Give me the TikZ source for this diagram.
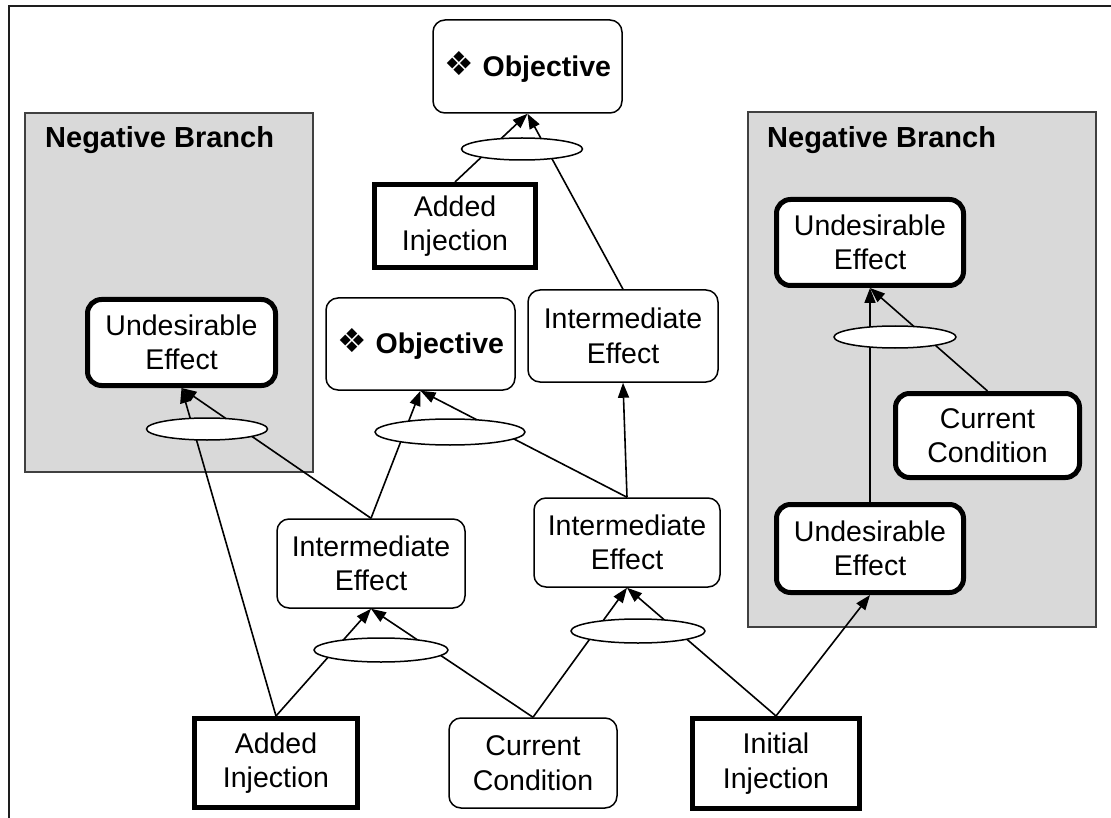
\documentclass[tikz,border=0pt]{standalone}
\usepackage{fontspec}
\setmainfont{Liberation Sans}
\newfontfamily\symfont{DejaVu Sans}
\usetikzlibrary{arrows.meta,shapes.geometric}
\definecolor{panelgray}{RGB}{217,217,217}
\definecolor{panelline}{RGB}{64,64,64}
\definecolor{framecol}{RGB}{30,30,30}
\newcommand{\objlabel}{\raisebox{1pt}{\symfont\fontsize{33}{33}\selectfont ❖}\hspace{9pt}\textbf{Objective}}
\begin{document}
\begin{tikzpicture}[x=1pt,y=-1pt,
  every node/.style={font=\fontsize{28.5}{34.5}\selectfont, align=center, inner sep=0pt},
  thinbox/.style={draw=black, line width=1.5pt, rounded corners=12pt, fill=white},
  thickbox/.style={draw=black, line width=5pt, rounded corners=14pt, fill=white},
  squarebox/.style={draw=black, line width=5pt, fill=white},
  panel/.style={draw=panelline, line width=1.5pt, fill=panelgray},
  paneltitle/.style={font=\fontsize{29}{34}\selectfont\bfseries, anchor=base west},
  andell/.style={ellipse, draw=black, line width=1.5pt, fill=white},
  conn/.style={draw=black, line width=1.6pt, -{Triangle[length=15pt,width=11pt]}},
  link/.style={draw=black, line width=1.5pt}]
\useasboundingbox (0,0) rectangle (1111,818);
\fill[white] (0,0) rectangle (1111,818);
% outer frame
\draw[framecol, line width=2.5pt] (9,818) -- (9,6) -- (1111,6);

% shaded negative-branch panels
\node[panel, minimum width=288pt, minimum height=359pt] (nbL) at (169,292.5) {};
\node[panel, minimum width=348pt, minimum height=515pt] (nbR) at (922,369.5) {};
\node[paneltitle] (nbLt) at (45,148) {Negative Branch};
\node[paneltitle] (nbRt) at (767,148) {Negative Branch};

% entities
\node[thinbox, minimum width=189pt, minimum height=93pt] (objTop) at (527.5,66.5) {\objlabel};
\node[squarebox, minimum width=161pt, minimum height=83pt] (aiTop) at (455,226) {Added\\Injection};
\node[thinbox, minimum width=189pt, minimum height=92pt] (objMid) at (420.5,344) {\objlabel};
\node[thinbox, minimum width=190pt, minimum height=92pt] (ieUp) at (623,336) {Intermediate\\Effect};
\node[thickbox, minimum width=188pt, minimum height=86pt] (ueL) at (181.5,342.5) {Undesirable\\Effect};
\node[thinbox, minimum width=188pt, minimum height=89pt] (ieL) at (371,563.5) {Intermediate\\Effect};
\node[thinbox, minimum width=186pt, minimum height=89pt] (ieR) at (627,542.5) {Intermediate\\Effect};
\node[squarebox, minimum width=163pt, minimum height=89pt] (aiBot) at (276,763) {Added\\Injection};
\node[thinbox, minimum width=168pt, minimum height=90pt] (ccBot) at (533,763) {Current\\Condition};
\node[squarebox, minimum width=167pt, minimum height=90pt] (iiBot) at (776,763.5) {Initial\\Injection};
\node[thickbox, minimum width=187pt, minimum height=86pt] (ueRT) at (870,242.5) {Undesirable\\Effect};
\node[thickbox, minimum width=184pt, minimum height=84pt] (ccR) at (987.5,435.5) {Current\\Condition};
\node[thickbox, minimum width=187pt, minimum height=88pt] (ueRB) at (870,548.5) {Undesirable\\Effect};

% cause-effect connectors
\draw[conn] (aiTop.north) -- (objTop.south);
\draw[conn] (ieUp.north) -- (objTop.south);
\draw[conn] (aiBot.north) -- (ueL.south);
\draw[conn] (ieL.north) -- (ueL.south);
\draw[conn] (ieL.north) -- (objMid.south);
\draw[conn] (ieR.north) -- (objMid.south);
\draw[conn] (ieR.north) -- (ieUp.south);
\draw[conn] (aiBot.north) -- (ieL.south);
\draw[conn] (ccBot.north) -- (ieL.south);
\draw[conn] (ccBot.north) -- (ieR.south);
\draw[conn] (iiBot.north) -- (ieR.south);
\draw[conn] (iiBot.north) -- (ueRB.south);
\draw[conn] (ueRB.north) -- (ueRT.south);
\draw[conn] (ccR.north) -- (ueRT.south);

% "and" ellipses over the joined arrows
\node[andell, minimum width=121pt, minimum height=22pt] (andTop) at (522,149) {};
\node[andell, minimum width=121pt, minimum height=22pt] (andL) at (207,429) {};
\node[andell, minimum width=150pt, minimum height=26pt] (andMid) at (450,432) {};
\node[andell, minimum width=134pt, minimum height=24pt] (andLL) at (381,650) {};
\node[andell, minimum width=134pt, minimum height=24pt] (andLR) at (638,631) {};
\node[andell, minimum width=122pt, minimum height=22pt] (andR) at (895,337) {};
\end{tikzpicture}
\end{document}
